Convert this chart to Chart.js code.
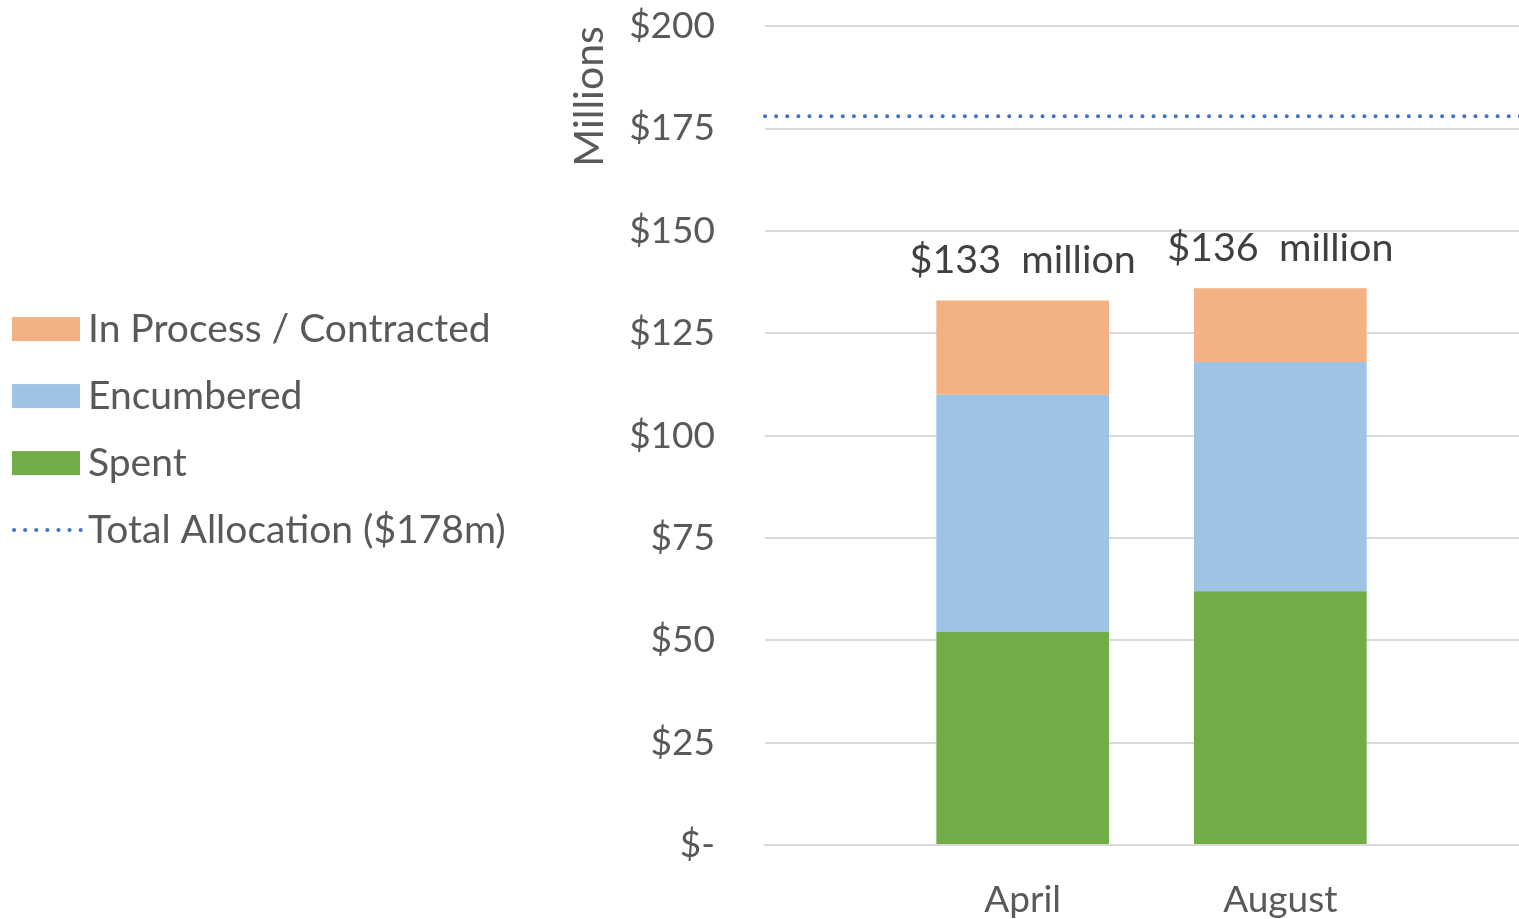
<!DOCTYPE html>
<html>
<head>
<meta charset="utf-8">
<script src="https://cdn.jsdelivr.net/npm/chart.js@4/dist/chart.umd.min.js"></script>
<style>
  html, body { margin: 0; padding: 0; background: #fff; overflow: hidden; }
  /* a bit wider than the window: the right edge of the plot runs off the picture */
  #wrap { width: 1538px; height: 919px; }
</style>
</head>
<body>
<div id="wrap"><canvas id="mycanvas"></canvas></div>
<script>
// chart values ($ millions)
var months = ['', 'April', 'August', ''];
var spent = [null, 52, 62, null];
var encumbered = [null, 58, 56, null];
var inProcess = [null, 23, 18, null];
var totalAllocation = [178, 178, 178, 178];
var totalLabels = [null, '$133  million', '$136  million', null];
var yMin = 0, yMax = 200, yStep = 25;
var legendOrder = [2, 1, 0, 3];

var fontFamily = 'Lato, "Open Sans", sans-serif';
var textGray = '#595959';
var fontSize = 37;
var bigFont = 39;

// "$xxx million" text above each stack
var totalsPlugin = {
  id: 'totals',
  afterDatasetsDraw: function(chart) {
    var ctx = chart.ctx;
    var xs = chart.scales.x, ys = chart.scales.y;
    ctx.save();
    ctx.font = 39.5 + 'px ' + fontFamily;
    ctx.fillStyle = '#404040';
    ctx.textAlign = 'center';
    ctx.textBaseline = 'middle';
    for (var i = 0; i < months.length; i++) {
      if (!totalLabels[i]) continue;
      var top = ys.getPixelForValue(spent[i] + encumbered[i] + inProcess[i]);
      ctx.fillText(totalLabels[i], xs.getPixelForValue(i), top - 40);
    }
    ctx.restore();
  }
};

// legend on the left, drawn from the datasets
var sideLegend = {
  id: 'sideLegend',
  afterDraw: function(chart) {
    var ctx = chart.ctx;
    var area = chart.chartArea;
    var step = 67;
    var y0 = (area.top + area.bottom) / 2 - step * (legendOrder.length - 1) / 2 - 6;
    ctx.save();
    ctx.font = bigFont + 'px ' + fontFamily;
    ctx.textBaseline = 'middle';
    legendOrder.forEach(function(di, k) {
      var ds = chart.data.datasets[di];
      var y = y0 + k * step;
      if (ds.type === 'line') {
        ctx.strokeStyle = ds.borderColor;
        ctx.lineWidth = ds.borderWidth;
        ctx.lineCap = 'round';
        ctx.setLineDash(ds.borderDash);
        ctx.beginPath();
        ctx.moveTo(14, y);
        ctx.lineTo(81, y);
        ctx.stroke();
        ctx.setLineDash([]);
      } else {
        ctx.fillStyle = ds.backgroundColor;
        ctx.fillRect(12, y - 12, 68, 24);
      }
      ctx.fillStyle = textGray;
      ctx.fillText(ds.label, 88, y);
    });
    ctx.restore();
  }
};

var ctx = document.getElementById('mycanvas');

var chart = new Chart(ctx, {
  type: 'bar',
  data: {
    labels: months,
    datasets: [
      { label: 'Spent', data: spent, backgroundColor: '#70AD47', stack: 'money' },
      { label: 'Encumbered', data: encumbered, backgroundColor: '#9DC3E6', stack: 'money' },
      { label: 'In Process / Contracted', data: inProcess, backgroundColor: '#F4B183', stack: 'money' },
      {
        type: 'line',
        label: 'Total Allocation ($178m)',
        data: totalAllocation,
        stack: 'alloc',
        borderColor: '#4472C4',
        borderWidth: 4,
        borderDash: [0.1, 11],
        borderCapStyle: 'round',
        pointRadius: 0,
        fill: false
      }
    ]
  },
  options: {
    responsive: true,
    maintainAspectRatio: false,
    animation: false,
    categoryPercentage: 0.67,
    barPercentage: 1,
    layout: { padding: { top: 0, left: 563, right: 0, bottom: 0 } },
    plugins: {
      tooltip: { enabled: false },
      legend: { display: false }
    },
    scales: {
      x: {
        offset: false,
        stacked: true,
        grid: { display: false, drawTicks: true, tickLength: 37, tickColor: 'rgba(0,0,0,0)' },
        border: { display: true, color: '#D9D9D9', width: 2 },
        ticks: { color: textGray, padding: 0, font: { family: fontFamily, size: fontSize, lineHeight: 1 } }
      },
      y: {
        stacked: true,
        min: yMin,
        max: yMax,
        afterFit: function(scale) { scale.width = 202; },
        ticks: {
          stepSize: yStep,
          padding: 4,
          color: textGray,
          font: { family: fontFamily, size: fontSize },
          callback: function(v) { return v === 0 ? '$-' : '$' + v; }
        },
        grid: { color: '#D9D9D9', lineWidth: 2, drawTicks: true, tickLength: 46, tickColor: 'rgba(0,0,0,0)' },
        border: { display: false },
        title: {
          display: true,
          text: 'Millions',
          align: 'end',
          color: textGray,
          padding: { top: 2, bottom: 4 },
          font: { family: fontFamily, size: 41 }
        }
      }
    }
  },
  plugins: [totalsPlugin, sideLegend]
});
</script>
</body>
</html>
